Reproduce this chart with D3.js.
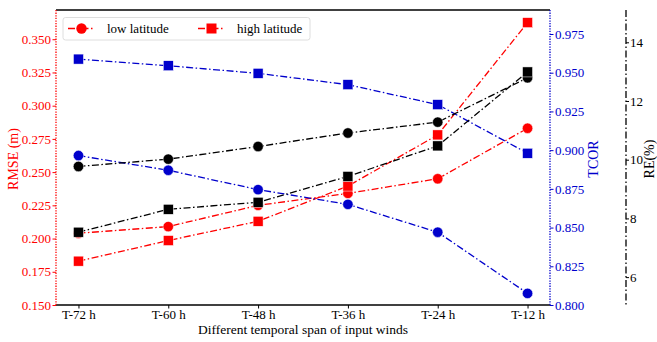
<!DOCTYPE html>
<html><head><meta charset="utf-8">
<script src="https://cdn.jsdelivr.net/npm/d3@7"></script>
<style>body{margin:0;background:#fff}svg{display:block}text{font-family:"Liberation Serif","Times New Roman",serif}</style>
</head><body><svg id="c" width="657" height="342"></svg>
<script>
const categories = ["T-72 h","T-60 h","T-48 h","T-36 h","T-24 h","T-12 h"];
// RMSE (m)
const rmseLow  = [0.204,0.209,0.225,0.234,0.245,0.283];
const rmseHigh = [0.183,0.1985,0.213,0.2395,0.278,0.3625];
// TCOR
const tcorLow  = [0.8965,0.887,0.8745,0.865,0.847,0.8075];
const tcorHigh = [0.9588,0.9545,0.9496,0.9423,0.9294,0.898];
// RE (%)
const reLow  = [9.77,10.02,10.45,10.91,11.28,12.79];
const reHigh = [7.53,8.31,8.55,9.43,10.47,12.99];
const rmseTicks = [0.150,0.175,0.200,0.225,0.250,0.275,0.300,0.325,0.350];
const tcorTicks = [0.800,0.825,0.850,0.875,0.900,0.925,0.950,0.975];
const reTicks = [6,8,10,12,14];

const svg = d3.select("#c");
const L=56,R=550,T=10,B=305, RE_X=626;
const x = d3.scaleLinear().domain([-0.25,5.25]).range([L,R]);
const yR = d3.scaleLinear().domain([0.15,0.372]).range([B,T]);
const yT = d3.scaleLinear().domain([0.8,0.9905]).range([B,T]);
const yE = d3.scaleLinear().domain([5.05,15.1]).range([B,T]);
const RED="#ff0000", BLUE="#0000cc", BLK="#000000";
const dash="7,2.5,1.5,2.5";
const TF="13px";

// axes
const fmt3=d3.format(".3f");
const ax1 = svg.append("g").attr("transform",`translate(${L},0)`)
  .call(d3.axisLeft(yR).tickValues(rmseTicks).tickFormat(fmt3).tickSize(3.5).tickPadding(1.5));
ax1.select(".domain").remove();
ax1.selectAll("line").attr("stroke",RED);
ax1.selectAll("text").attr("fill",RED).style("font-size",TF);
const ax2 = svg.append("g").attr("transform",`translate(${R},0)`)
  .call(d3.axisRight(yT).tickValues(tcorTicks).tickFormat(fmt3).tickSize(3.5).tickPadding(1.5));
ax2.select(".domain").remove();
ax2.selectAll("line").attr("stroke",BLUE);
ax2.selectAll("text").attr("fill",BLUE).style("font-size",TF);
const ax3 = svg.append("g").attr("transform",`translate(${RE_X},0)`)
  .call(d3.axisRight(yE).tickValues(reTicks).tickFormat(d3.format("d")).tickSize(3).tickPadding(1));
ax3.select(".domain").remove();
ax3.selectAll("line").attr("stroke",BLK);
ax3.selectAll("text").attr("fill",BLK).style("font-size",TF);
svg.append("line").attr("x1",RE_X).attr("x2",RE_X).attr("y1",T).attr("y2",B+1)
  .attr("stroke",BLK).attr("stroke-width",1.3).attr("stroke-dasharray",dash);
const axx = svg.append("g").attr("transform",`translate(0,${B})`)
  .call(d3.axisBottom(x).tickValues(d3.range(categories.length)).tickFormat(i=>categories[i]).tickSize(3.5).tickPadding(1.5));
axx.select(".domain").remove();
axx.selectAll("text").attr("fill",BLK).style("font-size",TF);

// spines
svg.append("line").attr("x1",L).attr("x2",R).attr("y1",T).attr("y2",T).attr("stroke",BLK).attr("stroke-width",1.3);
svg.append("line").attr("x1",L).attr("x2",R).attr("y1",B).attr("y2",B).attr("stroke",BLK).attr("stroke-width",1.3);
svg.append("line").attr("x1",L).attr("x2",L).attr("y1",T).attr("y2",B).attr("stroke",RED).attr("stroke-width",1.3).attr("stroke-dasharray","1.3,1.3");
svg.append("line").attr("x1",R).attr("x2",R).attr("y1",T).attr("y2",B).attr("stroke",BLUE).attr("stroke-width",1.3).attr("stroke-dasharray","1.3,1.3");

// labels
svg.append("text").attr("transform",`translate(18,159) rotate(-90)`).attr("text-anchor","middle")
  .attr("fill",RED).style("font-size","14px").text("RMSE (m)");
svg.append("text").attr("transform",`translate(597.5,159) rotate(-90)`).attr("text-anchor","middle")
  .attr("fill",BLUE).style("font-size","14px").text("TCOR");
svg.append("text").attr("transform",`translate(654,159) rotate(-90)`).attr("text-anchor","middle")
  .attr("fill",BLK).style("font-size","14px").text("RE(%)");
svg.append("text").attr("x",303).attr("y",334).attr("text-anchor","middle")
  .attr("fill",BLK).style("font-size","13.5px").text("Different temporal span of input winds");

// series
function drawSeries(vals, y, color, shape){
  const line = d3.line().x((d,i)=>x(i)).y(d=>y(d));
  svg.append("path").attr("d",line(vals)).attr("fill","none").attr("stroke",color)
    .attr("stroke-width",1.3).attr("stroke-dasharray",dash);
  const g = svg.append("g");
  vals.forEach((v,i)=>{
    if(shape==="circle") g.append("circle").attr("cx",x(i)).attr("cy",y(v)).attr("r",5.2)
      .attr("fill",color).attr("stroke","#fff").attr("stroke-width",0.5);
    else g.append("rect").attr("x",x(i)-5).attr("y",y(v)-5).attr("width",10).attr("height",10)
      .attr("fill",color).attr("stroke","#fff").attr("stroke-width",0.5);
  });
}
drawSeries(rmseLow,yR,RED,"circle");
drawSeries(rmseHigh,yR,RED,"square");
drawSeries(tcorLow,yT,BLUE,"circle");
drawSeries(tcorHigh,yT,BLUE,"square");
drawSeries(reLow,yE,BLK,"circle");
drawSeries(reHigh,yE,BLK,"square");

// legend
const lg = svg.append("g");
lg.append("rect").attr("x",63).attr("y",17.5).attr("width",247).attr("height",22.5).attr("rx",2.5)
  .attr("fill","#fff").attr("fill-opacity",0.8).attr("stroke","#d6d6d6").attr("stroke-width",0.8);
const legItems=[{label:"low latitude",shape:"circle",x0:68},{label:"high latitude",shape:"square",x0:198}];
legItems.forEach(it=>{
  const cy=28.5;
  lg.append("line").attr("x1",it.x0).attr("x2",it.x0+27).attr("y1",cy).attr("y2",cy)
    .attr("stroke",RED).attr("stroke-width",1.3).attr("stroke-dasharray",dash);
  if(it.shape==="circle") lg.append("circle").attr("cx",it.x0+13.5).attr("cy",cy).attr("r",5.2).attr("fill",RED);
  else lg.append("rect").attr("x",it.x0+8.5).attr("y",cy-5).attr("width",10).attr("height",10).attr("fill",RED);
  lg.append("text").attr("x",it.x0+39).attr("y",cy+4.5).attr("fill",BLK).style("font-size","13px").text(it.label);
});
</script></body></html>
